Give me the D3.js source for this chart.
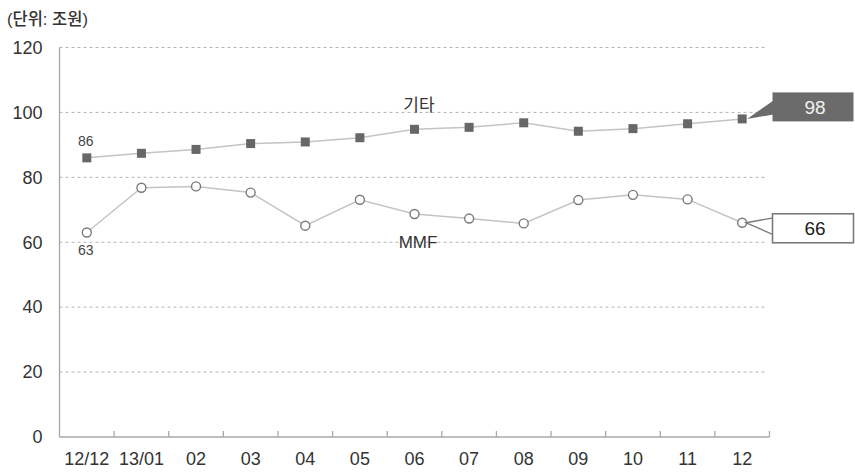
<!DOCTYPE html>
<html>
<head>
<meta charset="utf-8">
<script src="https://cdn.jsdelivr.net/npm/d3@7"></script>
<style>
  html, body { margin: 0; padding: 0; background: #fff; }
  svg { display: block; font-family: "Liberation Sans", Arial, "Noto Sans CJK KR", sans-serif; }
</style>
</head>
<body>
<svg id="chart" width="855" height="472"></svg>
<script>
// Monthly balances (조원)
const categories = ["12/12", "13/01", "02", "03", "04", "05", "06", "07", "08", "09", "10", "11", "12"];
const otherValues = [86, 87.4, 88.6, 90.4, 90.9, 92.2, 94.8, 95.4, 96.8, 94.2, 95.0, 96.5, 98];
const mmfValues = [63, 76.8, 77.2, 75.3, 65.1, 73.1, 68.7, 67.3, 65.8, 73.0, 74.6, 73.2, 66];
const yTicks = [0, 20, 40, 60, 80, 100, 120];
const unitLabel = "(단위: 조원)";
const otherName = "기타";
const mmfName = "MMF";

const svg = d3.select("#chart");
const plotLeft = 59.5, plotRight = 769.5, plotTop = 47.5, plotBottom = 437;

const x = d3.scaleBand().domain(categories).range([plotLeft, plotRight]).padding(0);
const y = d3.scaleLinear().domain([0, 120]).range([plotBottom, plotTop]);
const cx = c => x(c) + x.bandwidth() / 2;

// unit caption
svg.append("text").attr("x", 7).attr("y", 25)
  .attr("font-size", 16.5).attr("fill", "#333").attr("font-weight", 500)
  .text(unitLabel);

// dashed gridlines
svg.append("g").selectAll("line")
  .data(yTicks.filter(t => t > 0))
  .join("line")
  .attr("x1", plotLeft).attr("x2", plotRight - 2)
  .attr("y1", d => y(d)).attr("y2", d => y(d))
  .attr("stroke", "#b4b4b4").attr("stroke-width", 1)
  .attr("stroke-dasharray", "3,3");

// y axis labels
const yAxis = svg.append("g").attr("transform", `translate(${plotLeft},0)`)
  .call(d3.axisLeft(y).tickValues(yTicks).tickSize(0).tickPadding(17));
yAxis.select(".domain").remove();
yAxis.selectAll("text").attr("font-size", 18).attr("fill", "#333")
  .style("font-family", "'Liberation Sans', Arial, sans-serif");

// axis lines
svg.append("line").attr("x1", plotLeft).attr("x2", plotLeft).attr("y1", plotTop).attr("y2", plotBottom)
  .attr("stroke", "#a8a8a8").attr("stroke-width", 1.3);
svg.append("line").attr("x1", plotLeft).attr("x2", plotRight).attr("y1", plotBottom).attr("y2", plotBottom)
  .attr("stroke", "#a8a8a8").attr("stroke-width", 1.3);

// x tick marks on band boundaries
svg.append("g").selectAll("line")
  .data(categories)
  .join("line")
  .attr("x1", d => x(d) + x.bandwidth()).attr("x2", d => x(d) + x.bandwidth())
  .attr("y1", plotBottom).attr("y2", plotBottom - 6)
  .attr("stroke", "#a8a8a8").attr("stroke-width", 1.3);

// x labels
const xAxis = svg.append("g").attr("transform", `translate(0,${plotBottom})`)
  .call(d3.axisBottom(x).tickSize(0).tickPadding(15));
xAxis.select(".domain").remove();
xAxis.selectAll("text").attr("font-size", 18).attr("fill", "#333")
  .style("font-family", "'Liberation Sans', Arial, sans-serif");

const line = d3.line().x((d, i) => cx(categories[i])).y(d => y(d));

// lines
svg.append("path").datum(otherValues).attr("d", line)
  .attr("fill", "none").attr("stroke", "#c4c4c4").attr("stroke-width", 1.5);
svg.append("path").datum(mmfValues).attr("d", line)
  .attr("fill", "none").attr("stroke", "#c4c4c4").attr("stroke-width", 1.5);

// square markers
svg.append("g").selectAll("rect")
  .data(otherValues)
  .join("rect")
  .attr("x", (d, i) => cx(categories[i]) - 4.5)
  .attr("y", d => y(d) - 4.5)
  .attr("width", 9).attr("height", 9)
  .attr("fill", "#676767");

// circle markers
svg.append("g").selectAll("circle")
  .data(mmfValues)
  .join("circle")
  .attr("cx", (d, i) => cx(categories[i]))
  .attr("cy", d => y(d))
  .attr("r", 4.5)
  .attr("fill", "#fff").attr("stroke", "#7a7a7a").attr("stroke-width", 1.4);

// series names
svg.append("text").attr("x", 419).attr("y", 111).attr("text-anchor", "middle")
  .attr("font-size", 17).attr("fill", "#333").text(otherName);
svg.append("text").attr("x", 418).attr("y", 248).attr("text-anchor", "middle")
  .attr("font-size", 17).attr("fill", "#333").text(mmfName);

// first-point value labels
svg.append("text").attr("x", cx(categories[0]) - 1).attr("y", y(otherValues[0]) - 12)
  .attr("text-anchor", "middle").attr("font-size", 14).attr("fill", "#444")
  .text(otherValues[0]);
svg.append("text").attr("x", cx(categories[0]) - 1).attr("y", y(mmfValues[0]) + 22)
  .attr("text-anchor", "middle").attr("font-size", 14).attr("fill", "#444")
  .text(mmfValues[0]);

// latest-value callouts
const last = categories.length - 1;
const boxX = plotRight + 3, boxW = 81, boxH = 29;

// filled callout for 기타
{
  const px = cx(categories[last]) + 5, py = y(otherValues[last]);
  const by = py - 26.5;
  svg.append("polygon")
    .attr("points", `${px},${py} ${boxX + 1},${by + 8} ${boxX + 1},${by + 22}`)
    .attr("fill", "#6b6b6b");
  svg.append("rect").attr("x", boxX).attr("y", by).attr("width", boxW).attr("height", boxH)
    .attr("fill", "#6b6b6b");
  svg.append("text").attr("x", boxX + boxW / 2 + 2).attr("y", by + boxH / 2 + 7)
    .attr("text-anchor", "middle").attr("font-size", 19).attr("fill", "#f2f2f2")
    .text(otherValues[last]);
}

// outlined callout for MMF
{
  const px = cx(categories[last]) + 4, py = y(mmfValues[last]);
  const by = py - 9;
  svg.append("polygon")
    .attr("points", `${px},${py} ${boxX + 1},${by + 4} ${boxX + 1},${by + 21}`)
    .attr("fill", "#fff").attr("stroke", "#7a7a7a").attr("stroke-width", 1.4);
  svg.append("rect").attr("x", boxX).attr("y", by).attr("width", boxW).attr("height", boxH)
    .attr("fill", "#fff").attr("stroke", "#7a7a7a").attr("stroke-width", 1.6);
  svg.append("text").attr("x", boxX + boxW / 2 + 2).attr("y", by + boxH / 2 + 7)
    .attr("text-anchor", "middle").attr("font-size", 19).attr("fill", "#222")
    .text(mmfValues[last]);
}
</script>
</body>
</html>
